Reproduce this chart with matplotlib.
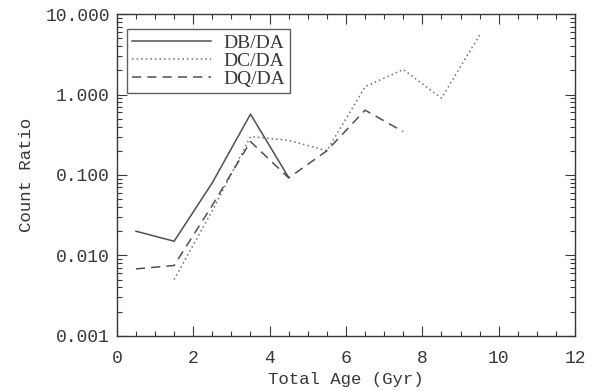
import numpy as np
import matplotlib
matplotlib.use("Agg")
import matplotlib.pyplot as plt
from matplotlib.ticker import FixedLocator, MultipleLocator, LogLocator, NullFormatter

plt.rcParams['font.family'] = ['Liberation Mono', 'DejaVu Sans Mono']

# Data
age_db = [0.5, 1.5, 2.5, 3.5, 4.5]
db_da = [0.020, 0.015, 0.08, 0.57, 0.093]

age_dc = [1.5, 2.5, 3.5, 4.5, 5.5, 6.5, 7.5, 8.5, 9.5]
dc_da = [0.005, 0.036, 0.30, 0.27, 0.20, 1.25, 2.05, 0.90, 5.5]

age_dq = [0.5, 1.5, 2.5, 3.5, 4.5, 5.5, 6.5, 7.5]
dq_da = [0.0068, 0.0075, 0.042, 0.26, 0.092, 0.20, 0.64, 0.345]

ytick_vals = [0.001, 0.01, 0.1, 1, 10]
ytick_labels = ["0.001", "0.010", "0.100", "1.000", "10.000"]

ink = '#383838'

fig = plt.figure(figsize=(5.96, 3.91), dpi=100)
ax = fig.add_axes([0.196, 0.141, 0.769, 0.823])

ax.plot(age_db, db_da, color='#505050', lw=1.1, ls='-', label='DB/DA')
ax.plot(age_dc, dc_da, color='#707070', lw=1.1, ls=(0, (1, 2)), label='DC/DA')
ax.plot(age_dq, dq_da, color='#505050', lw=1.1, ls=(0, (6, 4)), label='DQ/DA')

ax.set_yscale('log')
ax.set_xlim(0, 12)
ax.set_ylim(0.001, 10)

ax.xaxis.set_major_locator(MultipleLocator(2))
ax.xaxis.set_minor_locator(MultipleLocator(0.5))
ax.yaxis.set_major_locator(FixedLocator(ytick_vals))
ax.set_yticklabels(ytick_labels)
ax.yaxis.set_minor_locator(LogLocator(base=10, subs=np.arange(2, 10)))
ax.yaxis.set_minor_formatter(NullFormatter())

ax.tick_params(which='both', direction='in', top=True, right=True,
               color=ink, labelcolor=ink, labelsize=13)
ax.tick_params(which='major', length=7, width=0.8)
ax.tick_params(which='minor', length=3.5, width=0.8)
ax.tick_params(axis='x', pad=10)
ax.tick_params(axis='y', pad=5)
for s in ax.spines.values():
    s.set_color(ink)
    s.set_linewidth(1.0)

ax.set_xlabel('Total Age (Gyr)', color=ink, fontsize=12.5, labelpad=3.5)
ax.set_ylabel('Count Ratio', color=ink, fontsize=12.5, labelpad=8)

leg = ax.legend(loc='upper left', frameon=True, fancybox=False,
                prop={'family': 'Liberation Serif', 'size': 14},
                edgecolor=ink, handlelength=4.05, handletextpad=0.65,
                borderpad=0.25, labelspacing=0.02,
                bbox_to_anchor=(0.022, 0.953), borderaxespad=0)
leg.get_frame().set_linewidth(1.0)
for t in leg.get_texts():
    t.set_color(ink)

fig.savefig('out.png', dpi=100)
